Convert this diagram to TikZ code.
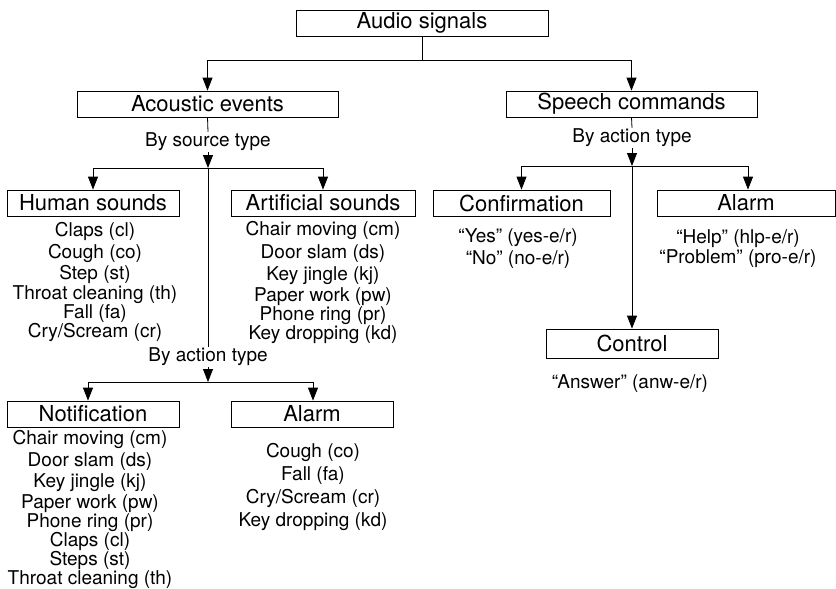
\documentclass[tikz,border=0pt]{standalone}
\usepackage{fontspec}
\setmainfont{TeX Gyre Heros}
\usetikzlibrary{arrows.meta}
\newcommand\cryscreamtxt{Cry/Scream (cr)}
\begin{document}
\begin{tikzpicture}[x=1pt,y=-1pt,
  box/.style={draw,line width=0.8pt,minimum height=26pt,inner sep=0pt,font=\fontsize{22}{24}\selectfont},
  lbl/.style={inner sep=1.5pt,font=\fontsize{19}{21}\selectfont,text height=13pt,text depth=4pt},
  item/.style={inner sep=0pt,font=\fontsize{19}{21}\selectfont,text height=11pt,text depth=3.5pt},
  conn/.style={line width=0.8pt},
  arr/.style={line width=0.8pt,-{Triangle[length=13pt,width=10pt]}}]
\useasboundingbox (0,0) rectangle (836,589);
% boxes
\node[box,minimum width=252pt] (audio) at (422,23) {Audio signals};
\node[box,minimum width=261pt] (acoustic) at (207.5,104) {Acoustic events};
\node[box,minimum width=251pt] (speech) at (631.5,104) {Speech commands};
\node[box,minimum width=172pt] (human) at (93,203) {Human sounds};
\node[box,minimum width=184pt] (artificial) at (323,203) {Artificial sounds};
\node[box,minimum width=177pt] (confirm) at (521.5,203) {Confirmation};
\node[box,minimum width=178pt] (alarmR) at (746,203) {Alarm};
\node[box,minimum width=172pt,minimum height=29pt] (control) at (632,343.5) {Control};
\node[box,minimum width=172pt] (notif) at (93,414) {Notification};
\node[box,minimum width=162pt] (alarmL) at (312,414) {Alarm};
% labels
\node[lbl] (bysrc) at (208,142) {By source type};
\node[lbl] (byact1) at (208,357) {By action type};
\node[lbl] (byact2) at (632,138) {By action type};
% junctions
\coordinate (j0) at (422,60);
\coordinate (j1) at (208,168);
\coordinate (j2) at (208,382);
\coordinate (j3) at (632,166);
% connectors
\draw[conn] (audio.south) -- (j0);
\draw[arr] (j0) -| (acoustic.north);
\draw[arr] (j0) -| (speech.north);
\draw[conn] (acoustic.south) -- (bysrc.north);
\draw[arr] (bysrc.south) -- (j1);
\draw[arr] (j1) -| (human.north);
\draw[arr] (j1) -| (artificial.north);
\draw[conn] (j1) -- (byact1.north);
\draw[arr] (byact1.south) -- (j2);
\draw[arr] (j2) -| ([xshift=-5pt]notif.north);
\draw[arr] (j2) -| ([xshift=1pt]alarmL.north);
\draw[conn] (speech.south) -- (byact2.north);
\draw[arr] (byact2.south) -- (j3);
\draw[arr] (j3) -| (confirm.north);
\draw[arr] (j3) -| ([xshift=2pt]alarmR.north);
\draw[arr] (j3) -- (control.north);
% items: human sounds
\foreach \t/\y [count=\i] in {Claps (cl)/233,Cough (co)/255,Step (st)/276,Throat cleaning (th)/296,Fall (fa)/315,\cryscreamtxt/334}
  \node[item] (hs\i) at (95,\y) {\t};
% artificial
\foreach \t/\y [count=\i] in {Chair moving (cm)/232,Door slam (ds)/255,Key jingle (kj)/277,Paper work (pw)/298,Phone ring (pr)/317,Key dropping (kd)/336}
  \node[item] (as\i) at (323,\y) {\t};
% notification
\foreach \t/\y [count=\i] in {Chair moving (cm)/441,Door slam (ds)/463,Key jingle (kj)/484,Paper work (pw)/505,Phone ring (pr)/524,Claps (cl)/543,Steps (st)/562,Throat cleaning (th)/581}
  \node[item] (ns\i) at (90,\y) {\t};
% alarm left
\foreach \t/\y [count=\i] in {Cough (co)/454,Fall (fa)/477,\cryscreamtxt/500,Key dropping (kd)/523}
  \node[item] (al\i) at (313,\y) {\t};
% speech items
\node[item] (yes) at (518,239) {“Yes” (yes-e/r)};
\node[item] (no) at (518,261) {“No” (no-e/r)};
\node[item] (help) at (738,240) {“Help” (hlp-e/r)};
\node[item] (prob) at (738,260) {“Problem” (pro-e/r)};
\node[item] (answer) at (630,385) {“Answer” (anw-e/r)};
\end{tikzpicture}
\end{document}
